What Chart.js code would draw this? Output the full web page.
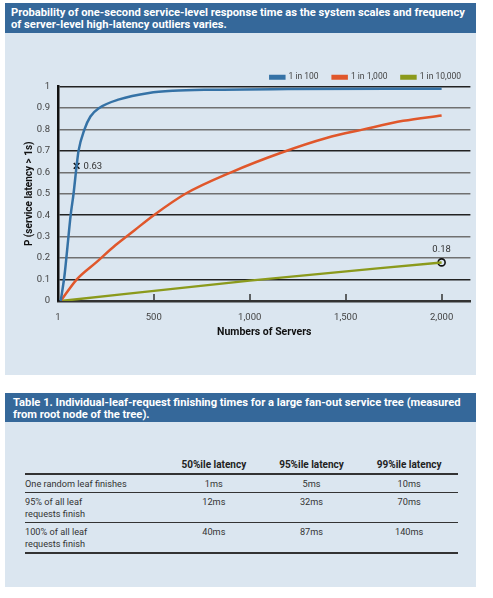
<!DOCTYPE html>
<html lang="en">
<head>
<meta charset="UTF-8">
<title>Service latency outliers</title>
<script src="https://cdn.jsdelivr.net/npm/chart.js"></script>
<style>
    body { margin: 0; background: #fff; font-family: Roboto, "DejaVu Sans", sans-serif; }
    .panel { position: absolute; left: 5px; width: 471px; background: #dbe6f0; }
    .hdr { background: #35689a; color: #fff; font-weight: bold; font-size: 11.2px; line-height: 12px; padding: 4px 6px 5px 6px; height: 21px; white-space: nowrap; }
    #fig1 { top: 3px; height: 372px; }
    #tab1 { top: 393px; height: 194px; }
    #tab1 .hdr { height: 20px; padding-left: 8px; }
    table { margin: 37px 0 0 20px; width: 433px; border-collapse: collapse; font-size: 9.2px; color: #333; }
    th { font-weight: bold; color: #222; font-size: 10px; padding: 0 0 3px 0; border-bottom: 2px solid #333; }
    td { text-align: center; vertical-align: top; padding: 3px 0 2px 0; border-bottom: 1px solid #333; line-height: 12px; }
    td.rh { text-align: left; width: 140px; }
    tr:last-child td { border-bottom: 2px solid #333; }
</style>
</head>
<body>

<div class="panel" id="fig1">
    <div class="hdr">Probability of one-second service-level response time as the system scales and frequency<br>of server-level high-latency outliers varies.</div>
    <canvas id="chart" width="471" height="342"></canvas>
</div>

<div class="panel" id="tab1">
    <div class="hdr">Table 1. Individual-leaf-request finishing times for a large fan-out service tree (measured<br>from root node of the tree).</div>
    <table id="latTable"></table>
</div>

<script>
// number of servers / probability
const seriesNames = ['1 in 100', '1 in 1,000', '1 in 10,000'];
const n100 = [15, 35, 50, 67, 82, 98, 108, 139, 170, 216, 320, 475, 600, 800, 1200, 2000];
const p100 = [0, 0.12, 0.25, 0.4, 0.5, 0.63, 0.7, 0.8, 0.86, 0.9, 0.94, 0.97, 0.98, 0.985, 0.988, 0.99];
const n1000 = [15, 98, 200, 300, 400, 500, 665, 903, 1160, 1400, 1593, 1800, 2000];
const p1000 = [0, 0.1, 0.18, 0.26, 0.33, 0.4, 0.5, 0.6, 0.69, 0.76, 0.8, 0.84, 0.865];
const n10000 = [15, 1000, 2000];
const p10000 = [0, 0.095, 0.18];

const xTicks = [1, 500, 1000, 1500, 2000];
const yTicks = [0, 0.1, 0.2, 0.3, 0.4, 0.5, 0.6, 0.7, 0.8, 0.9, 1];

// callouts
const markN = [98, 2000];
const markP = [0.63, 0.18];
const markText = ['0.63', '0.18'];

// table
const tableCols = ['50%ile latency', '95%ile latency', '99%ile latency'];
const tableRows = ['One random leaf finishes', '95% of all leaf<br>requests finish', '100% of all leaf<br>requests finish'];
const tableVals = [['1ms', '5ms', '10ms'], ['12ms', '32ms', '70ms'], ['40ms', '87ms', '140ms']];

const colors = ['#3572a6', '#e0572b', '#8b9a1c'];

const pts = (xs, ys) => xs.map((x, i) => ({ x: x, y: ys[i] }));

(function () {
    const tbl = document.getElementById('latTable');
    let html = '<tr><th></th>' + tableCols.map(c => `<th>${c}</th>`).join('') + '</tr>';
    tableRows.forEach((r, i) => {
        html += `<tr><td class="rh">${r}</td>` + tableVals[i].map(v => `<td>${v}</td>`).join('') + '</tr>';
    });
    tbl.innerHTML = html;
})();

// legend sits lower, closer to the plot
const legendShift = {
    id: 'legendShift',
    beforeInit(chart) {
        const fit = chart.legend.fit;
        chart.legend.fit = function () {
            fit.bind(chart.legend)();
            this.height -= 5;
        };
    }
};

// small upward tick marks on the x axis + callout labels
const extras = {
    id: 'extras',
    afterDatasetsDraw(chart) {
        const { ctx, scales: { x, y } } = chart;
        ctx.save();
        ctx.strokeStyle = '#333';
        ctx.lineWidth = 1.5;
        xTicks.slice(1).forEach(v => {
            const px = Math.round(x.getPixelForValue(v));
            ctx.beginPath();
            ctx.moveTo(px, y.bottom);
            ctx.lineTo(px, y.bottom - 7);
            ctx.stroke();
        });
        ctx.fillStyle = '#333';
        ctx.font = '9.5px Roboto, sans-serif';
        ctx.textBaseline = 'middle';
        const px0 = x.getPixelForValue(markN[0]), py0 = y.getPixelForValue(markP[0]);
        ctx.textAlign = 'left';
        ctx.fillText(markText[0], px0 + 7, py0 + 1);
        const px1 = x.getPixelForValue(markN[1]), py1 = y.getPixelForValue(markP[1]);
        ctx.textAlign = 'center';
        ctx.fillText(markText[1], px1, py1 - 13);
        ctx.restore();
    }
};

new Chart(document.getElementById('chart'), {
    type: 'line',
    data: {
        datasets: [
            { label: seriesNames[0], data: pts(n100, p100), borderColor: colors[0], backgroundColor: colors[0] },
            { label: seriesNames[1], data: pts(n1000, p1000), borderColor: colors[1], backgroundColor: colors[1] },
            { label: seriesNames[2], data: pts(n10000, p10000), borderColor: colors[2], backgroundColor: colors[2] },
            {
                label: 'mark1', data: [{ x: markN[0], y: markP[0] }], showLine: false,
                pointStyle: 'crossRot', pointRadius: 4, borderColor: '#111', borderWidth: 1.6
            },
            {
                label: 'mark2', data: [{ x: markN[1], y: markP[1] }], showLine: false,
                pointStyle: 'circle', pointRadius: 3.5, borderColor: '#111', backgroundColor: 'rgba(0,0,0,0)', borderWidth: 1.6
            }
        ]
    },
    options: {
        responsive: false,
        animation: false,
        parsing: false,
        elements: {
            line: { borderWidth: 2.5, cubicInterpolationMode: 'monotone' },
            point: { radius: 0 }
        },
        layout: { padding: { left: 14, right: 1, top: 26, bottom: 32 } },
        plugins: {
            legend: {
                position: 'top',
                align: 'end',
                labels: {
                    boxWidth: 14, boxHeight: 2.5, padding: 14,
                    color: '#444', font: { size: 8.5, family: 'Roboto' },
                    filter: item => item.datasetIndex < 3
                }
            },
            tooltip: { enabled: false }
        },
        scales: {
            x: {
                type: 'linear',
                min: 1,
                max: 2150,
                afterBuildTicks: s => { s.ticks = xTicks.map(v => ({ value: v })); },
                afterFit: s => { s.height = 42; },
                ticks: {
                    color: '#444', font: { size: 9.5, family: 'Roboto' }, padding: 11,
                    callback: v => v.toLocaleString('en-US')
                },
                grid: { display: false, drawTicks: false },
                border: { color: '#333', width: 2.5 },
                title: { display: true, text: 'Numbers of Servers', color: '#111', font: { size: 10.5, weight: 'bold', family: 'Roboto' } }
            },
            y: {
                min: 0,
                max: 1,
                afterBuildTicks: s => { s.ticks = yTicks.map(v => ({ value: v })); },
                afterFit: s => { s.width = 39; },
                ticks: { color: '#444', font: { size: 9.5, family: 'Roboto' }, padding: 8, callback: v => String(v) },
                grid: {
                    drawTicks: false,
                    lineWidth: 1.5,
                    color: c => (c.index % 3 === 1 ? '#222' : '#707070')
                },
                border: { color: '#111', width: 2.5 },
                title: { display: true, text: 'P (service latency > 1s)', color: '#111', font: { size: 10, weight: 'bold', family: 'Roboto' } }
            }
        }
    },
    plugins: [legendShift, extras]
});
</script>
</body>
</html>
